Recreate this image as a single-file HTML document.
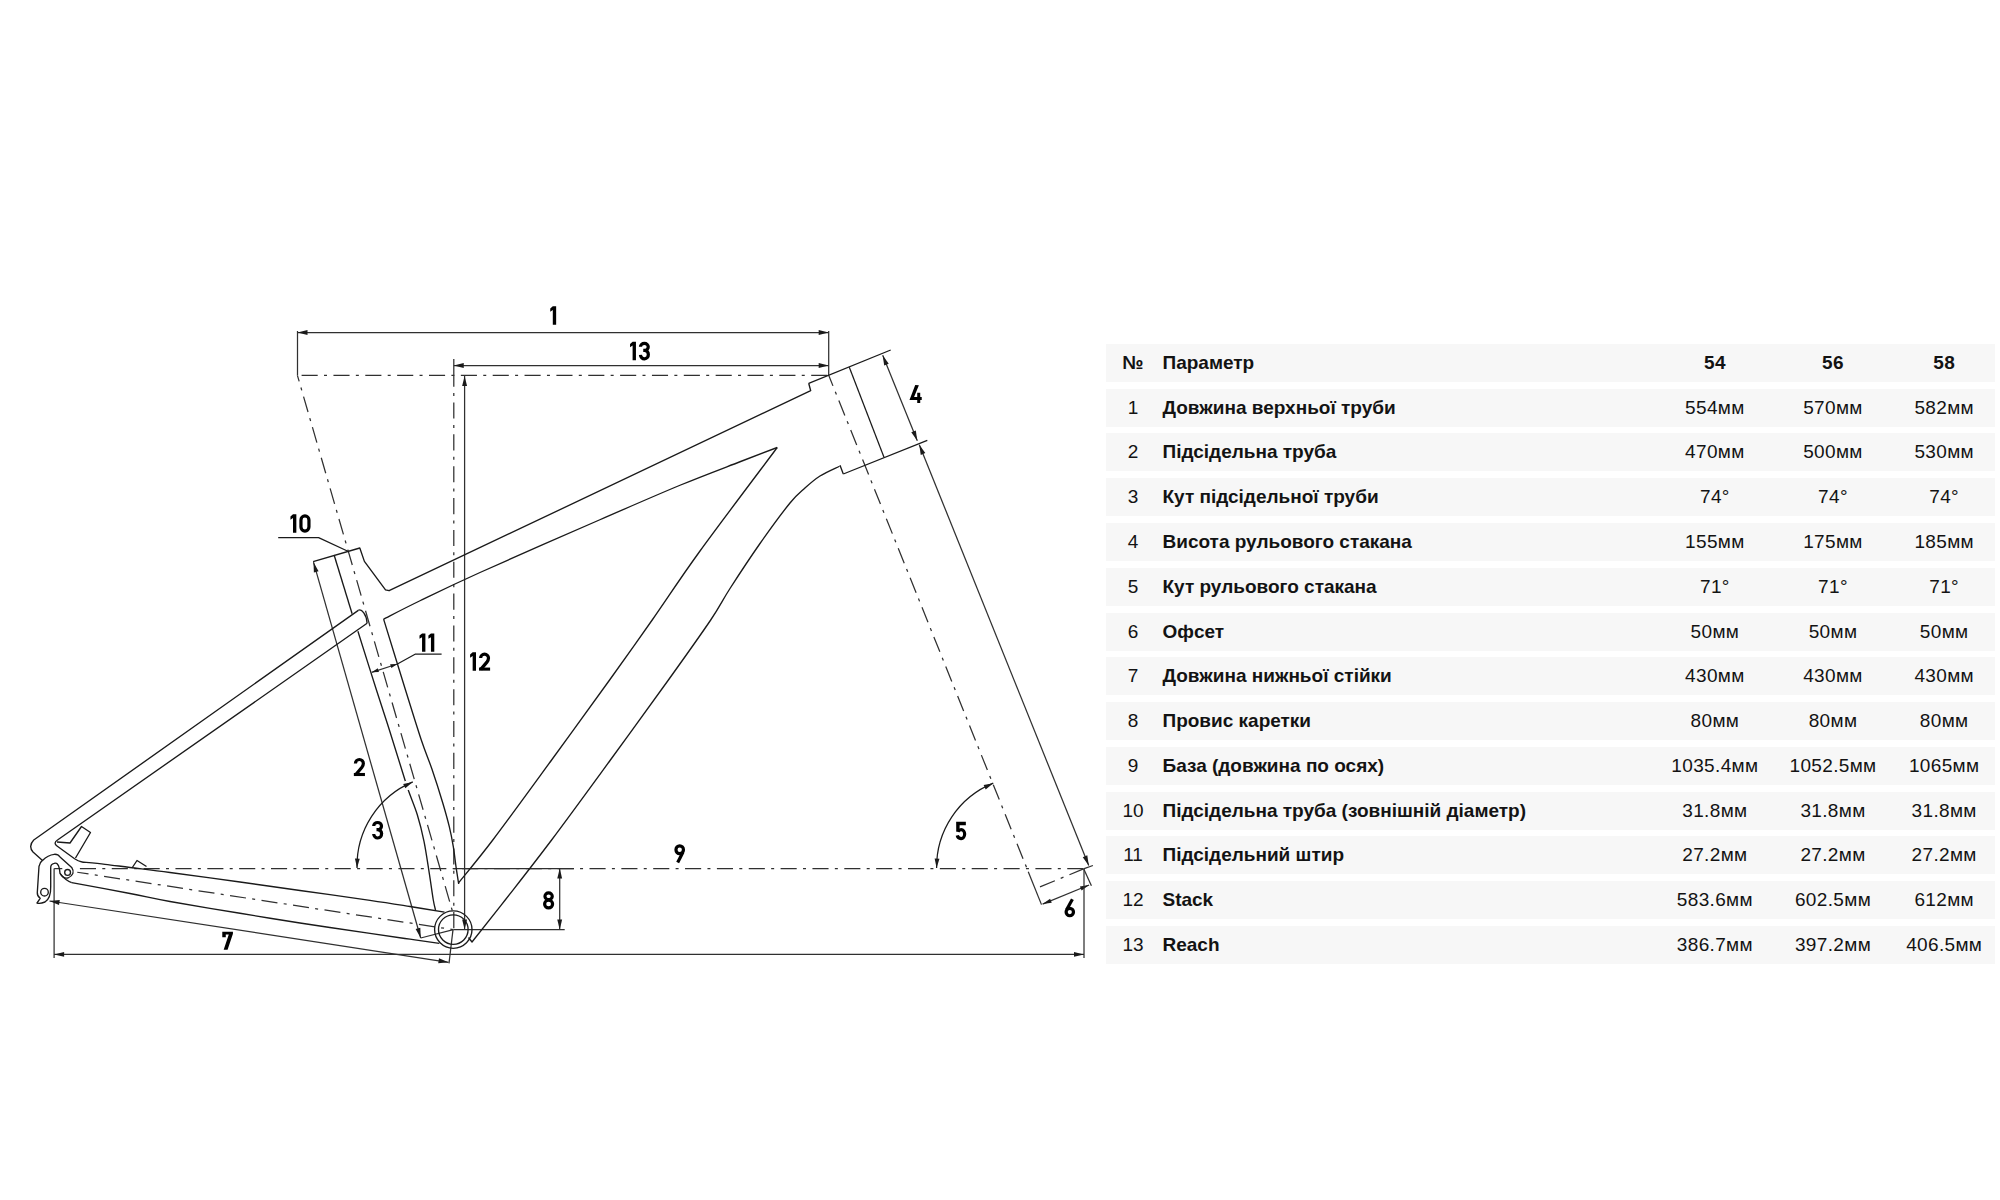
<!DOCTYPE html>
<html><head><meta charset="utf-8"><style>
html,body{margin:0;padding:0;background:#fff;}
body{width:2000px;height:1200px;position:relative;overflow:hidden;font-family:"Liberation Sans",sans-serif;color:#131313;}
.row{position:absolute;left:1105.8px;width:889px;height:38.0px;background:#f7f7f7;}
.c{position:absolute;top:0;height:38.0px;line-height:38.0px;font-size:19px;white-space:nowrap;}
.n{left:-72.8px;width:200px;text-align:center;}
.p{left:56.7px;font-weight:bold;}
.v{width:200px;text-align:center;margin-left:-1105.8px;letter-spacing:0.35px;}
</style></head><body>
<svg width="1100" height="1200" viewBox="0 0 1100 1200" style="position:absolute;left:0;top:0"><line x1="297.5" y1="332.5" x2="828.7" y2="332.5" stroke="#303030" stroke-width="1.25"/>
<polygon points="297.5,332.5 307.5,330.05 307.5,334.95" fill="#1a1a1a"/>
<polygon points="828.7,332.5 818.7,334.95 818.7,330.05" fill="#1a1a1a"/>
<line x1="297.5" y1="331" x2="297.5" y2="375.3" stroke="#303030" stroke-width="1.25"/>
<line x1="828.7" y1="331" x2="828.7" y2="375.3" stroke="#303030" stroke-width="1.25"/>
<line x1="453.75" y1="365.5" x2="828.7" y2="365.5" stroke="#303030" stroke-width="1.25"/>
<polygon points="453.75,365.5 463.75,363.05 463.75,367.95" fill="#1a1a1a"/>
<polygon points="828.7,365.5 818.7,367.95 818.7,363.05" fill="#1a1a1a"/>
<line x1="297.5" y1="375.3" x2="828.7" y2="375.3" stroke="#303030" stroke-width="1.25" stroke-dasharray="16.1 6.3 3 6.45" stroke-dashoffset="27.75"/>
<line x1="453.8" y1="359" x2="453.8" y2="375.3" stroke="#303030" stroke-width="1.25"/>
<line x1="453.8" y1="375.3" x2="453.8" y2="929.6" stroke="#303030" stroke-width="1.25" stroke-dasharray="16.1 6.3 3 6.45" stroke-dashoffset="4.65"/>
<line x1="464.6" y1="376" x2="464.6" y2="929.6" stroke="#303030" stroke-width="1.25"/>
<polygon points="464.6,376 467.05,386 462.15,386" fill="#1a1a1a"/>
<polygon points="464.6,929.6 462.15,919.6 467.05,919.6" fill="#1a1a1a"/>
<line x1="297.4" y1="375.3" x2="452.5" y2="911.4" stroke="#303030" stroke-width="1.25" stroke-dasharray="16.1 6.3 3 6.45" stroke-dashoffset="9.7"/>
<line x1="828.7" y1="375.3" x2="1028.25" y2="871.69" stroke="#303030" stroke-width="1.25" stroke-dasharray="16.1 6.3 3 6.45" stroke-dashoffset="4.7"/>
<line x1="1028.25" y1="871.69" x2="1041.49" y2="904.63" stroke="#303030" stroke-width="1.25"/>
<polyline points="808.7,383.3 890.7,350" fill="none" stroke="#1a1a1a" stroke-width="1.25" stroke-linejoin="round"/>
<polyline points="849.3,367.3 884,457.3" fill="none" stroke="#1a1a1a" stroke-width="1.25" stroke-linejoin="round"/>
<polyline points="843.3,474 927.3,440.4" fill="none" stroke="#1a1a1a" stroke-width="1.25" stroke-linejoin="round"/>
<line x1="882.7" y1="355.3" x2="917.3" y2="440.7" stroke="#303030" stroke-width="1.25"/>
<polygon points="882.7,355.3 888.73,363.65 884.18,365.49" fill="#1a1a1a"/>
<polygon points="917.3,440.7 911.27,432.35 915.82,430.51" fill="#1a1a1a"/>
<line x1="919.3" y1="444.7" x2="1088.75" y2="865.5" stroke="#303030" stroke-width="1.25"/>
<polygon points="919.3,444.7 925.31,453.06 920.76,454.89" fill="#1a1a1a"/>
<polygon points="1088.75,865.5 1082.74,857.14 1087.29,855.31" fill="#1a1a1a"/>
<line x1="1083.5" y1="868.9" x2="1092.9" y2="865.5" stroke="#303030" stroke-width="1.25"/>
<line x1="1083.9" y1="869.25" x2="1091.4" y2="885.75" stroke="#303030" stroke-width="1.25"/>
<line x1="1040" y1="886.9" x2="1083.5" y2="868.9" stroke="#303030" stroke-width="1.25" stroke-dasharray="16.1 6.3 3 6.45" stroke-dashoffset="0"/>
<line x1="1042.6" y1="904.1" x2="1089.1" y2="885" stroke="#303030" stroke-width="1.25"/>
<polygon points="1042.6,904.1 1050.09,898.65 1051.76,902.72" fill="#1a1a1a"/>
<polygon points="1089.1,885 1081.61,890.45 1079.94,886.38" fill="#1a1a1a"/>
<line x1="1084" y1="868.9" x2="1084" y2="958" stroke="#303030" stroke-width="1.25"/>
<line x1="78.7" y1="868.6" x2="1084" y2="868.6" stroke="#303030" stroke-width="1.25" stroke-dasharray="16.1 6.3 3 6.45" stroke-dashoffset="30.65"/>
<line x1="453.5" y1="868.6" x2="574" y2="868.6" stroke="#303030" stroke-width="1.25"/>
<line x1="54.2" y1="868.6" x2="62.3" y2="868.6" stroke="#303030" stroke-width="1.25"/>
<line x1="54.1" y1="954.4" x2="1084" y2="954.4" stroke="#303030" stroke-width="1.25"/>
<polygon points="54.1,954.4 64.1,951.95 64.1,956.85" fill="#1a1a1a"/>
<polygon points="1084,954.4 1074,956.85 1074,951.95" fill="#1a1a1a"/>
<line x1="54.1" y1="868.6" x2="54.1" y2="958" stroke="#303030" stroke-width="1.25"/>
<line x1="49.5" y1="901" x2="448.5" y2="962.3" stroke="#303030" stroke-width="1.25"/>
<polygon points="49.5,901 59.76,900.1 59.01,904.94" fill="#1a1a1a"/>
<polygon points="448.5,962.3 438.24,963.2 438.99,958.36" fill="#1a1a1a"/>
<line x1="453" y1="929.6" x2="449" y2="963.4" stroke="#303030" stroke-width="1.25"/>
<line x1="77.25" y1="872.25" x2="453" y2="929.6" stroke="#303030" stroke-width="1.25" stroke-dasharray="16.1 6.3 3 6.45" stroke-dashoffset="4.7"/>
<line x1="559.7" y1="868.6" x2="559.7" y2="929.6" stroke="#303030" stroke-width="1.25"/>
<polygon points="559.7,868.6 562.15,878.6 557.25,878.6" fill="#1a1a1a"/>
<polygon points="559.7,929.6 557.25,919.6 562.15,919.6" fill="#1a1a1a"/>
<line x1="453.3" y1="929.6" x2="564.7" y2="929.6" stroke="#303030" stroke-width="1.25"/>
<line x1="313.5" y1="562.2" x2="420.7" y2="938" stroke="#303030" stroke-width="1.25"/>
<polygon points="313.5,562.2 318.6,571.14 313.89,572.49" fill="#1a1a1a"/>
<polygon points="420.7,938 415.6,929.06 420.31,927.71" fill="#1a1a1a"/>
<line x1="420.7" y1="938" x2="453.3" y2="929.6" stroke="#303030" stroke-width="1.25"/>
<line x1="371.7" y1="672.3" x2="397.4" y2="664" stroke="#303030" stroke-width="1.25"/>
<polygon points="371.7,672.3 377.75,668.25 378.98,672.05" fill="#1a1a1a"/>
<polygon points="397.4,664 391.35,668.05 390.12,664.25" fill="#1a1a1a"/>
<polyline points="397.4,664 415.5,654 441.6,654" fill="none" stroke="#1a1a1a" stroke-width="1.25" stroke-linejoin="round"/>
<polyline points="278.2,537.6 318.6,537.6 347.9,551.3" fill="none" stroke="#1a1a1a" stroke-width="1.25" stroke-linejoin="round"/>
<polyline points="313.1,561.6 359.8,548 364.4,561.4 385.5,589.8 389.1,590.7 810.7,390.7 808.7,383.3" fill="none" stroke="#1a1a1a" stroke-width="1.35" stroke-linejoin="round"/>
<path d="M383.6,619.1 C389.67,616.04 403.93,608.52 420,600.75 C436.07,592.98 450.12,585.96 480,572.5 C509.88,559.04 565.97,534.54 599.3,520 C632.63,505.46 656.55,494.96 680,485.25 C703.45,475.54 723.79,468.04 740,461.75 C756.21,455.46 771.04,449.88 777.25,447.5" fill="none" stroke="#1a1a1a" stroke-width="1.35" stroke-linejoin="round" stroke-linecap="butt"/>
<path d="M777.25,447.5 C764.38,464.75 720.84,522.25 700,551 C679.16,579.75 667.27,598.5 652.2,620 C637.13,641.5 626.37,656.67 609.6,680 C592.83,703.33 571.07,733.33 551.6,760 C532.13,786.67 508.33,819.5 492.8,840 C477.27,860.5 464.13,875.83 458.4,883" fill="none" stroke="#1a1a1a" stroke-width="1.35" stroke-linejoin="round" stroke-linecap="butt"/>
<path d="M383.6,619.1 C387.25,630.92 399.22,669.85 405.5,690 C411.78,710.15 416.88,726.78 421.3,740 C425.72,753.22 428.43,758.85 432,769.3 C435.57,779.75 439.82,793.13 442.7,802.7 C445.58,812.27 447.53,819.37 449.3,826.7 C451.07,834.03 452.18,840.03 453.3,846.7 C454.42,853.37 455.1,860.48 456,866.7 C456.9,872.92 458.25,881.12 458.7,884" fill="none" stroke="#1a1a1a" stroke-width="1.35" stroke-linejoin="round" stroke-linecap="butt"/>
<path d="M334.1,555 L352.1,613.75" fill="none" stroke="#1a1a1a" stroke-width="1.35" stroke-linejoin="round" stroke-linecap="butt"/>
<path d="M357.9,631.25 C360.99,641.04 371.2,673.54 376.45,690 C381.7,706.46 385.47,717.67 389.4,730 C393.32,742.33 396.9,754.12 400,764 C403.1,773.88 405.12,780.85 408,789.3 C410.88,797.75 414.63,806.03 417.3,814.7 C419.97,823.37 422,831.53 424,841.3 C426,851.07 427.75,863.52 429.3,873.3 C430.85,883.08 432.27,893.88 433.3,900 C434.33,906.12 435.13,908.33 435.5,910" fill="none" stroke="#1a1a1a" stroke-width="1.35" stroke-linejoin="round" stroke-linecap="butt"/>
<path d="M840,465.3 L843.3,474" fill="none" stroke="#1a1a1a" stroke-width="1.35" stroke-linejoin="round" stroke-linecap="butt"/>
<path d="M839.5,466.25 C836.25,467.88 825.75,472.38 820,476 C814.25,479.62 810,483.5 805,488 C800,492.5 797.5,493.75 790,503 C782.5,512.25 770,529.25 760,543.5 C750,557.75 738.22,575.75 730,588.5 C721.78,601.25 720.97,604.75 710.7,620 C700.43,635.25 685.12,656.67 668.4,680 C651.68,703.33 629.87,733.33 610.4,760 C590.93,786.67 569.13,816.67 551.6,840 C534.07,863.33 518.47,883 505.2,900 C491.93,917 477.53,935 472,942 L468.5,937.5" fill="none" stroke="#1a1a1a" stroke-width="1.35" stroke-linejoin="round" stroke-linecap="butt"/>
<path d="M358.3,610.4 L33.75,840 Q28,846 33,852 L42.5,860.4" fill="none" stroke="#1a1a1a" stroke-width="1.35" stroke-linejoin="round" stroke-linecap="butt"/>
<path d="M367.1,623.3 L57.5,840 Q53,843 57,846 L74.6,858.7 Q78,861 82,862" fill="none" stroke="#1a1a1a" stroke-width="1.35" stroke-linejoin="round" stroke-linecap="butt"/>
<path d="M82,862 C85.83,862.38 97,863.38 105,864.3 C113,865.22 119.17,866.13 130,867.5 C140.83,868.87 151.67,870.08 170,872.5 C188.33,874.92 218.33,879 240,882 C261.67,885 278.33,887.45 300,890.5 C321.67,893.55 351.67,897.63 370,900.3 C388.33,902.97 397.58,904.52 410,906.5 C422.42,908.48 438.75,911.25 444.5,912.2" fill="none" stroke="#1a1a1a" stroke-width="1.35" stroke-linejoin="round" stroke-linecap="butt"/>
<path d="M358.3,610.4 C361.5,608.2 366.8,615 367.1,623.3" fill="none" stroke="#1a1a1a" stroke-width="1.35" stroke-linejoin="round" stroke-linecap="butt"/>
<path d="M60,873.3 Q65,880 71.7,882.6" fill="none" stroke="#1a1a1a" stroke-width="1.35" stroke-linejoin="round" stroke-linecap="butt"/>
<path d="M71.7,882.6 C81.42,884.42 113.62,890.35 130,893.5 C146.38,896.65 151.67,898.21 170,901.5 C188.33,904.79 218.33,909.67 240,913.25 C261.67,916.83 278.33,919.64 300,923 C321.67,926.36 351.67,930.7 370,933.4 C388.33,936.1 398.45,937.55 410,939.2 C421.55,940.85 434.42,942.62 439.3,943.3" fill="none" stroke="#1a1a1a" stroke-width="1.35" stroke-linejoin="round" stroke-linecap="butt"/>
<polyline points="57,842 70,843 81.5,826.5 90.5,832.5 75.5,858" fill="none" stroke="#1a1a1a" stroke-width="1.35" stroke-linejoin="round"/>
<polyline points="132,868 137,860.5 146.5,866.5" fill="none" stroke="#1a1a1a" stroke-width="1.35" stroke-linejoin="round"/>
<path d="M42.5,860.4 Q48,855 54.2,854.3 Q58,854 60,857 L71.7,867.4 Q76,874 68,878 Q63,879 60,873.3 L59.4,868.6 Q58,862 54.2,863.3 Q50.5,864 50.7,868 L50.7,886.7 Q51,898 45,902 Q40,904 37,903 L40.2,898.3 Q37,896 37.3,892.5 L39,866.3 Q40,862 42.5,860.4" fill="none" stroke="#1a1a1a" stroke-width="1.35" stroke-linejoin="round" stroke-linecap="butt"/>
<circle cx="67.6" cy="872.4" r="2.9" fill="none" stroke="#1a1a1a" stroke-width="1.35"/>
<circle cx="44.5" cy="892.2" r="3.8" fill="none" stroke="#1a1a1a" stroke-width="1.35"/>
<circle cx="453.3" cy="929.6" r="18.7" fill="none" stroke="#1a1a1a" stroke-width="1.35"/>
<circle cx="453.3" cy="929.6" r="14.8" fill="none" stroke="#1a1a1a" stroke-width="1.35"/>
<line x1="405.4" y1="781" x2="408.1" y2="790" stroke="#fff" stroke-width="2.6"/>
<path d="M412.81,781.91 A91.1,91.1 0 0 0 357.03,868.1" fill="none" stroke="#1a1a1a" stroke-width="1.25" stroke-linejoin="round" stroke-linecap="butt"/>
<polygon points="412.81,781.91 405.31,788.23 403.21,783.91" fill="#1a1a1a"/>
<polygon points="357.03,868.1 354.92,858.53 359.72,858.68" fill="#1a1a1a"/>
<path d="M993.26,783.2 A90.6,90.6 0 0 0 936.6,868.1" fill="none" stroke="#1a1a1a" stroke-width="1.25" stroke-linejoin="round" stroke-linecap="butt"/>
<polygon points="993.26,783.2 985.68,789.41 983.64,785.07" fill="#1a1a1a"/>
<polygon points="936.6,868.1 934.64,858.5 939.43,858.72" fill="#1a1a1a"/>
<g transform="translate(550.25 306.35)"><path d="M0,2.1 L2.55,0 H5.9 V18.3 H2.55 V3.7 L0,5.3 Z" fill="#000"/></g>
<g transform="translate(630.05 341.85)"><path d="M0,2.1 L2.55,0 H5.9 V18.3 H2.55 V3.7 L0,5.3 Z" fill="#000"/></g><g transform="translate(638.95 341.85)"><path d="M1.5,5.0 A3.9,3.55 0 0 1 9.3,5.0 A3.5,3.55 0 0 1 5.8,8.6 H4.3" fill="none" stroke="#000" stroke-width="3.2"/><path d="M5.8,8.6 A3.75,3.95 0 0 1 9.4,12.6 A3.9,4.1 0 0 1 1.5,13.0" fill="none" stroke="#000" stroke-width="3.2"/></g>
<g transform="translate(909.48 384.95)"><path d="M5.75,0 L9.4,0.3 L4.6,12 H7.75 V7.75 H10.75 V12 H12.25 V15 H10.75 V18.0 H7.75 V15 H0 Z" fill="#000"/></g>
<g transform="translate(290.45 514.35)"><path d="M0,2.1 L2.55,0 H5.9 V18.3 H2.55 V3.7 L0,5.3 Z" fill="#000"/></g><g transform="translate(299.35 514.35)"><path d="M1.6,5.6 A4,4 0 0 1 9.6,5.6 V12.7 A4,4 0 0 1 1.6,12.7 Z" fill="none" stroke="#000" stroke-width="3.2"/></g>
<g transform="translate(419.50 633.50)"><path d="M0,2.1 L2.55,0 H5.9 V18.3 H2.55 V3.7 L0,5.3 Z" fill="#000"/></g><g transform="translate(428.40 633.50)"><path d="M0,2.1 L2.55,0 H5.9 V18.3 H2.55 V3.7 L0,5.3 Z" fill="#000"/></g>
<g transform="translate(470.10 652.35)"><path d="M0,2.1 L2.55,0 H5.9 V18.3 H2.55 V3.7 L0,5.3 Z" fill="#000"/></g><g transform="translate(479.00 652.35)"><path d="M1.6,5.7 A3.95,3.95 0 0 1 9.5,5.7 C9.5,7.4 8.9,8.5 7.9,9.8 L1.8,17.0" fill="none" stroke="#000" stroke-width="3.2"/><path d="M0,15.2 H11.1 V18.3 H0 Z" fill="#000"/></g>
<g transform="translate(353.85 757.75)"><path d="M1.6,5.7 A3.95,3.95 0 0 1 9.5,5.7 C9.5,7.4 8.9,8.5 7.9,9.8 L1.8,17.0" fill="none" stroke="#000" stroke-width="3.2"/><path d="M0,15.2 H11.1 V18.3 H0 Z" fill="#000"/></g>
<g transform="translate(372.20 821.05)"><path d="M1.5,5.0 A3.9,3.55 0 0 1 9.3,5.0 A3.5,3.55 0 0 1 5.8,8.6 H4.3" fill="none" stroke="#000" stroke-width="3.2"/><path d="M5.8,8.6 A3.75,3.95 0 0 1 9.4,12.6 A3.9,4.1 0 0 1 1.5,13.0" fill="none" stroke="#000" stroke-width="3.2"/></g>
<g transform="translate(955.95 821.85)"><path d="M2.0,9.7 C2.9,8.4 4.0,7.7 5.2,7.7 A3.5,4.5 0 0 1 5.2,16.7 A3.9,3.9 0 0 1 1.3,13.6" fill="none" stroke="#000" stroke-width="3.2"/><path d="M0.2,0 H9.9 V3.3 H3.7 L3.6,9.9 H0.3 Z" fill="#000"/></g>
<g transform="translate(674.30 844.20)"><path d="M8.6,8.0 L3.4,18.3" fill="none" stroke="#000" stroke-width="3.2"/><path d="M1.65,5.55 A3.75,3.95 0 1 1 9.15,5.55 A3.75,3.95 0 1 1 1.65,5.55 Z" fill="none" stroke="#000" stroke-width="3.2"/></g>
<g transform="translate(543.00 891.25)"><path d="M1.95,5.00 A3.65,3.40 0 1 1 9.25,5.00 A3.65,3.40 0 1 1 1.95,5.00 Z" fill="none" stroke="#000" stroke-width="3.2"/><path d="M1.60,12.80 A4.00,3.90 0 1 1 9.60,12.80 A4.00,3.90 0 1 1 1.60,12.80 Z" fill="none" stroke="#000" stroke-width="3.2"/></g>
<g transform="translate(222.28 931.65)"><path d="M0,0 H10.65 V2.1 L5.3,18.0 H1.4 L6.5,2.9 H3.5 V5.7 H0 Z" fill="#000"/></g>
<g transform="translate(1064.50 899.05)"><path d="M7.9,0.3 L2.1,10.8" fill="none" stroke="#000" stroke-width="3.2"/><path d="M1.60,13.00 A3.70,3.70 0 1 1 9.00,13.00 A3.70,3.70 0 1 1 1.60,13.00 Z" fill="none" stroke="#000" stroke-width="3.2"/></g></svg>
<div class="row" style="top:343.90px">
<span class="c n" style="font-weight:bold">№</span>
<span class="c p">Параметр</span>
<span class="c v" style="left:1614.9px;font-weight:bold">54</span>
<span class="c v" style="left:1733.0px;font-weight:bold">56</span>
<span class="c v" style="left:1844.2px;font-weight:bold">58</span>
</div>
<div class="row" style="top:388.67px">
<span class="c n" style="font-weight:normal">1</span>
<span class="c p">Довжина верхньої труби</span>
<span class="c v" style="left:1614.9px;font-weight:normal">554мм</span>
<span class="c v" style="left:1733.0px;font-weight:normal">570мм</span>
<span class="c v" style="left:1844.2px;font-weight:normal">582мм</span>
</div>
<div class="row" style="top:433.44px">
<span class="c n" style="font-weight:normal">2</span>
<span class="c p">Підсідельна труба</span>
<span class="c v" style="left:1614.9px;font-weight:normal">470мм</span>
<span class="c v" style="left:1733.0px;font-weight:normal">500мм</span>
<span class="c v" style="left:1844.2px;font-weight:normal">530мм</span>
</div>
<div class="row" style="top:478.21px">
<span class="c n" style="font-weight:normal">3</span>
<span class="c p">Кут підсідельної труби</span>
<span class="c v" style="left:1614.9px;font-weight:normal">74°</span>
<span class="c v" style="left:1733.0px;font-weight:normal">74°</span>
<span class="c v" style="left:1844.2px;font-weight:normal">74°</span>
</div>
<div class="row" style="top:522.98px">
<span class="c n" style="font-weight:normal">4</span>
<span class="c p">Висота рульового стакана</span>
<span class="c v" style="left:1614.9px;font-weight:normal">155мм</span>
<span class="c v" style="left:1733.0px;font-weight:normal">175мм</span>
<span class="c v" style="left:1844.2px;font-weight:normal">185мм</span>
</div>
<div class="row" style="top:567.75px">
<span class="c n" style="font-weight:normal">5</span>
<span class="c p">Кут рульового стакана</span>
<span class="c v" style="left:1614.9px;font-weight:normal">71°</span>
<span class="c v" style="left:1733.0px;font-weight:normal">71°</span>
<span class="c v" style="left:1844.2px;font-weight:normal">71°</span>
</div>
<div class="row" style="top:612.52px">
<span class="c n" style="font-weight:normal">6</span>
<span class="c p">Офсет</span>
<span class="c v" style="left:1614.9px;font-weight:normal">50мм</span>
<span class="c v" style="left:1733.0px;font-weight:normal">50мм</span>
<span class="c v" style="left:1844.2px;font-weight:normal">50мм</span>
</div>
<div class="row" style="top:657.29px">
<span class="c n" style="font-weight:normal">7</span>
<span class="c p">Довжина нижньої стійки</span>
<span class="c v" style="left:1614.9px;font-weight:normal">430мм</span>
<span class="c v" style="left:1733.0px;font-weight:normal">430мм</span>
<span class="c v" style="left:1844.2px;font-weight:normal">430мм</span>
</div>
<div class="row" style="top:702.06px">
<span class="c n" style="font-weight:normal">8</span>
<span class="c p">Провис каретки</span>
<span class="c v" style="left:1614.9px;font-weight:normal">80мм</span>
<span class="c v" style="left:1733.0px;font-weight:normal">80мм</span>
<span class="c v" style="left:1844.2px;font-weight:normal">80мм</span>
</div>
<div class="row" style="top:746.83px">
<span class="c n" style="font-weight:normal">9</span>
<span class="c p">База (довжина по осях)</span>
<span class="c v" style="left:1614.9px;font-weight:normal">1035.4мм</span>
<span class="c v" style="left:1733.0px;font-weight:normal">1052.5мм</span>
<span class="c v" style="left:1844.2px;font-weight:normal">1065мм</span>
</div>
<div class="row" style="top:791.60px">
<span class="c n" style="font-weight:normal">10</span>
<span class="c p">Підсідельна труба (зовнішній діаметр)</span>
<span class="c v" style="left:1614.9px;font-weight:normal">31.8мм</span>
<span class="c v" style="left:1733.0px;font-weight:normal">31.8мм</span>
<span class="c v" style="left:1844.2px;font-weight:normal">31.8мм</span>
</div>
<div class="row" style="top:836.37px">
<span class="c n" style="font-weight:normal">11</span>
<span class="c p">Підсідельний штир</span>
<span class="c v" style="left:1614.9px;font-weight:normal">27.2мм</span>
<span class="c v" style="left:1733.0px;font-weight:normal">27.2мм</span>
<span class="c v" style="left:1844.2px;font-weight:normal">27.2мм</span>
</div>
<div class="row" style="top:881.14px">
<span class="c n" style="font-weight:normal">12</span>
<span class="c p">Stack</span>
<span class="c v" style="left:1614.9px;font-weight:normal">583.6мм</span>
<span class="c v" style="left:1733.0px;font-weight:normal">602.5мм</span>
<span class="c v" style="left:1844.2px;font-weight:normal">612мм</span>
</div>
<div class="row" style="top:925.91px">
<span class="c n" style="font-weight:normal">13</span>
<span class="c p">Reach</span>
<span class="c v" style="left:1614.9px;font-weight:normal">386.7мм</span>
<span class="c v" style="left:1733.0px;font-weight:normal">397.2мм</span>
<span class="c v" style="left:1844.2px;font-weight:normal">406.5мм</span>
</div>
</body></html>
